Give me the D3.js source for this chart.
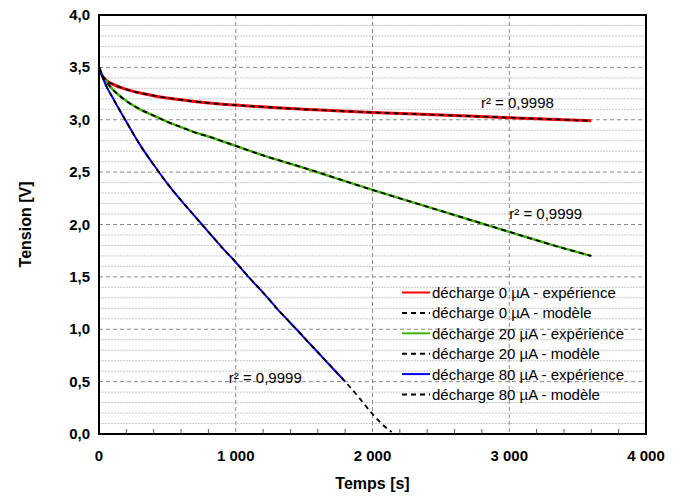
<!DOCTYPE html>
<html>
<head>
<meta charset="utf-8">
<script src="https://cdn.jsdelivr.net/npm/d3@7"></script>
<style>
  body { margin: 0; background: #fff; }
  svg { font-family: "Liberation Sans", Arial, sans-serif; }
  .tick-label { font-weight: bold; font-size: 15px; }
  .axis-title { font-weight: bold; font-size: 16px; }
  .legend text, .r2 { font-size: 15px; }
</style>
</head>
<body>
<svg id="chart" width="683" height="496"></svg>
<script>
// time [s]
var t0 = [0, 20, 50, 100, 200, 400, 600, 800, 1000, 1500, 2000, 2500, 3000, 3600]
var v0 = [3.50, 3.43, 3.38, 3.34, 3.29, 3.23, 3.19, 3.16, 3.14, 3.10, 3.07, 3.045, 3.02, 2.99]

var t20 = [0, 20, 50, 100, 200, 300, 400, 500, 600, 700, 800, 1000, 1200, 1500, 2000, 2500, 3000, 3300, 3600]
var v20 = [3.50, 3.43, 3.37, 3.29, 3.18, 3.10, 3.04, 2.98, 2.93, 2.88, 2.84, 2.75, 2.66, 2.54, 2.33, 2.13, 1.93, 1.81, 1.70]

var t80 = [0, 50, 100, 200, 300, 400, 500, 600, 700, 800, 900, 1000, 1100, 1200, 1300, 1400, 1500, 1600, 1700, 1800]
var v80 = [3.50, 3.33, 3.21, 2.98, 2.76, 2.57, 2.39, 2.23, 2.08, 1.93, 1.78, 1.64, 1.49, 1.35, 1.20, 1.06, 0.92, 0.78, 0.64, 0.50]
// model for 80 uA carries on past the measurement
var t80m = t80.concat([1900, 2000, 2100, 2140])
var v80m = v80.concat([0.35, 0.19, 0.06, 0.02])

var xTicks = [0, 1000, 2000, 3000, 4000]
var xTickLabels = ['0', '1 000', '2 000', '3 000', '4 000']
var yTicks = [0, 0.5, 1, 1.5, 2, 2.5, 3, 3.5, 4]
var yTickLabels = ['0,0', '0,5', '1,0', '1,5', '2,0', '2,5', '3,0', '3,5', '4,0']

var legendLabels = [
  'décharge 0 µA - expérience', 'décharge 0 µA - modèle',
  'décharge 20 µA - expérience', 'décharge 20 µA - modèle',
  'décharge 80 µA - expérience', 'décharge 80 µA - modèle'
]
var r2Labels = ['r² = 0,9998', 'r² = 0,9999', 'r² = 0,9999']
var r2Pos = [[2793, 3.11], [3000, 2.05], [949, 0.49]]

var margin = { top: 15, right: 37, bottom: 62, left: 99 }
var svg = d3.select('#chart')
var width = +svg.attr('width') - margin.left - margin.right
var height = +svg.attr('height') - margin.top - margin.bottom
var g = svg.append('g').attr('transform', 'translate(' + margin.left + ',' + margin.top + ')')

var x = d3.scaleLinear().domain([0, 4000]).range([0, width])
var y = d3.scaleLinear().domain([0, 4]).range([height, 0])

// minor grid (0.1 V)
g.append('g').selectAll('line').data(d3.range(1, 40).filter(i => i % 5 != 0).map(i => i / 10)).enter()
    .append('line')
    .attr('x1', 0).attr('x2', width)
    .attr('y1', d => y(d)).attr('y2', d => y(d))
    .attr('stroke', '#c8c8c8').attr('stroke-width', 1).attr('stroke-dasharray', '2,1')
// major grid
g.append('g').selectAll('line').data(yTicks.slice(1, -1)).enter()
    .append('line')
    .attr('x1', 0).attr('x2', width)
    .attr('y1', d => y(d)).attr('y2', d => y(d))
    .attr('stroke', '#8a8a8a').attr('stroke-width', 1).attr('stroke-dasharray', '4,3')
g.append('g').selectAll('line').data(xTicks.slice(1, -1)).enter()
    .append('line')
    .attr('y1', 0).attr('y2', height)
    .attr('x1', d => x(d)).attr('x2', d => x(d))
    .attr('stroke', '#8a8a8a').attr('stroke-width', 1).attr('stroke-dasharray', '4,3')

// minor x ticks, inside
g.append('g').selectAll('line').data(d3.range(200, 4000, 200).filter(d => d % 1000 != 0)).enter()
    .append('line')
    .attr('x1', d => x(d)).attr('x2', d => x(d))
    .attr('y1', height).attr('y2', height - 5)
    .attr('stroke', '#555').attr('stroke-width', 1)

// tick labels
g.selectAll('.xl').data(xTicks).enter().append('text')
    .attr('class', 'tick-label')
    .attr('x', d => x(d)).attr('y', height + 27)
    .attr('text-anchor', 'middle')
    .text((d, i) => xTickLabels[i])
g.selectAll('.yl').data(yTicks).enter().append('text')
    .attr('class', 'tick-label')
    .attr('x', -9).attr('y', d => y(d) + 5)
    .attr('text-anchor', 'end')
    .text((d, i) => yTickLabels[i])

g.append('text').attr('class', 'axis-title')
    .attr('x', width / 2).attr('y', height + 55)
    .attr('text-anchor', 'middle').text('Temps [s]')
g.append('text').attr('class', 'axis-title')
    .attr('transform', 'translate(-68,' + (height / 2) + ') rotate(-90)')
    .attr('text-anchor', 'middle').text('Tension [V]')

var line = d3.line().x(d => x(d[0])).y(d => y(d[1])).curve(d3.curveMonotoneX)
function pairs(ts, vs) { return ts.map((t, i) => [t, vs[i]]) }

var series = [
  { pts: pairs(t0, v0), color: '#ff0000', w: 3 },
  { pts: pairs(t20, v20), color: '#3cb400', w: 2.5 },
  { pts: pairs(t80, v80), color: '#0000ff', w: 2 }
]
var models = [pairs(t0, v0), pairs(t20, v20), pairs(t80m, v80m)]

series.forEach(s => {
  g.append('path').attr('d', line(s.pts))
      .attr('fill', 'none').attr('stroke', s.color).attr('stroke-width', s.w)
})
models.forEach(m => {
  g.append('path').attr('d', line(m))
      .attr('fill', 'none').attr('stroke', '#000').attr('stroke-width', 1.8)
      .attr('stroke-dasharray', '5,4')
})

// r2 annotations
g.selectAll('.r2').data(r2Pos).enter().append('text')
    .attr('class', 'r2')
    .attr('x', d => x(d[0])).attr('y', d => y(d[1]))
    .text((d, i) => r2Labels[i])

// legend
var lg = g.append('g').attr('class', 'legend').attr('transform', 'translate(303,277.5)')
var legendStyles = [
  { color: '#ff0000', dash: null }, { color: '#000', dash: '5,4' },
  { color: '#3cb400', dash: null }, { color: '#000', dash: '5,4' },
  { color: '#0000ff', dash: null }, { color: '#000', dash: '5,4' }
]
legendLabels.forEach((lab, i) => {
  var row = lg.append('g').attr('transform', 'translate(0,' + (i * 20.4) + ')')
  row.append('line').attr('x1', 0).attr('x2', 28).attr('y1', 0).attr('y2', 0)
      .attr('stroke', legendStyles[i].color).attr('stroke-width', 2)
      .attr('stroke-dasharray', legendStyles[i].dash)
  row.append('text').attr('x', 30).attr('y', 5.5).text(lab)
})

// frame
g.append('rect').attr('width', width).attr('height', height)
    .attr('fill', 'none').attr('stroke', '#000').attr('stroke-width', 2)
</script>
</body>
</html>
